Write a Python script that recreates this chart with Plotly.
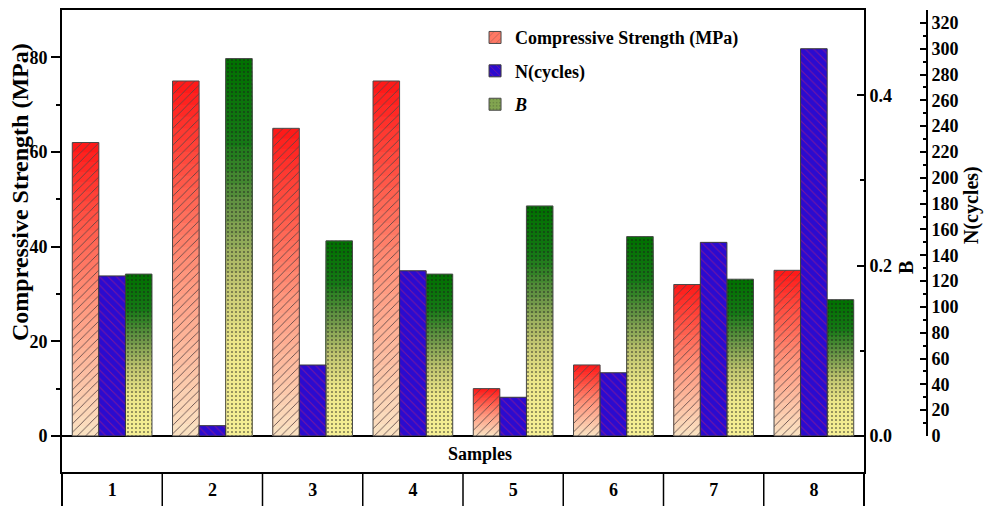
import plotly.graph_objects as go

# ---------------- data ----------------
samples = ["1", "2", "3", "4", "5", "6", "7", "8"]
strength = [62, 75, 65, 75, 10, 15, 32, 35]            # MPa (left axis)
cycles = [124, 8, 55, 128, 30, 49, 150, 300]           # N(cycles) (far right axis)
b_values = [0.190, 0.443, 0.229, 0.190, 0.270, 0.234, 0.184, 0.160]  # B (right axis)

strength_ticks = [0, 20, 40, 60, 80]
b_ticks = [0.0, 0.2, 0.4]
b_ticktext = ["0.0", "0.2", "0.4"]
cycle_ticks = list(range(0, 321, 20))

# ---------------- styling ----------------
FONT = "Liberation Serif"
W = 0.265
OFF = [-0.3975, -0.1325, 0.1325]
K = 30  # gradient layers

red_stops = [(0.0, (250, 228, 196)), (0.45, (255, 150, 125)), (0.7, (255, 92, 76)), (1.0, (255, 22, 22))]
green_stops = [(0.0, (246, 240, 150)), (0.25, (236, 230, 136)), (0.42, (190, 195, 110)),
               (0.6, (105, 148, 70)), (0.78, (22, 120, 22)), (1.0, (0, 112, 0))]
blue = "#2B0BCF"


def col(stops, t):
    for (t0, c0), (t1, c1) in zip(stops[:-1], stops[1:]):
        if t0 <= t <= t1:
            f = (t - t0) / (t1 - t0)
            c = [round(a + (b - a) * f) for a, b in zip(c0, c1)]
            return "rgb(%d,%d,%d)" % tuple(c)
    return "rgb(%d,%d,%d)" % stops[-1][1]


fig = go.Figure()


def add_gradient_series(values, stops, yaxis, offset, name, group, shape, fg, legend_color):
    for i in range(K):
        frac = (K - i) / K
        tmid = (K - i - 0.5) / K
        fig.add_trace(go.Bar(
            x=samples, y=[v * frac for v in values], yaxis=yaxis,
            offset=offset, width=W,
            marker=dict(color=col(stops, tmid), line=dict(width=0)),
            showlegend=False, hoverinfo="skip", legendgroup=group))
    # pattern + outline overlay
    fig.add_trace(go.Bar(
        x=samples, y=values, yaxis=yaxis, offset=offset, width=W, name=name,
        marker=dict(color="rgba(0,0,0,0)", line=dict(color="#4a4a4a", width=1),
                    pattern=dict(shape=shape, fgcolor=fg, bgcolor="rgba(0,0,0,0)",
                                 fillmode="replace", size=6 if shape != "." else 4,
                                 solidity=0.14 if shape != "." else 0.12)),
        showlegend=False, legendgroup=group))
    # legend carrier
    fig.add_trace(go.Bar(
        x=[None], y=[None], yaxis=yaxis, offset=offset, width=W, name=name,
        marker=dict(color=legend_color, line=dict(color="#4a4a4a", width=1),
                    pattern=dict(shape=shape, fgcolor=fg, fillmode="overlay",
                                 size=6 if shape != "." else 4,
                                 solidity=0.14 if shape != "." else 0.12)),
        showlegend=True, legendgroup=group))


add_gradient_series(strength, red_stops, "y", OFF[0], "Compressive Strength (MPa)", "cs",
                    "/", "#5a4545", "rgb(255,120,100)")

fig.add_trace(go.Bar(
    x=samples, y=cycles, yaxis="y3", offset=OFF[1], width=W, name="N(cycles)",
    marker=dict(color=blue, line=dict(color="#3a3a3a", width=1),
                pattern=dict(shape="\\", fgcolor="#C8206A", fillmode="overlay",
                             size=6, solidity=0.16)),
    legendgroup="n"))

add_gradient_series(b_values, green_stops, "y2", OFF[2], "<i>B</i>", "b",
                    ".", "#1a1a1a", "rgb(130,165,80)")

# ---------------- layout ----------------
plot_w = 802
paper_w = 865
xd = plot_w / paper_w
below = 34 / 462

fig.update_layout(
    width=987, height=506,
    margin=dict(l=62, r=60, t=10, b=34, pad=0, autoexpand=False),
    plot_bgcolor="rgba(0,0,0,0)", paper_bgcolor="white",
    barmode="overlay",
    font=dict(family=FONT, size=18, color="black", weight="bold"),
    showlegend=True,
    legend=dict(x=0.4775, y=0.98, xanchor="left", yanchor="top",
                bgcolor="rgba(0,0,0,0)", font=dict(family=FONT, size=18, weight="bold"),
                tracegroupgap=7, traceorder="grouped"),
    xaxis=dict(type="category", range=[-0.5, 7.5], domain=[0, xd], automargin=False,
               showline=True, linecolor="black", linewidth=2, mirror=True,
               ticks="", showgrid=False, zeroline=False, ticklabelstandoff=0,
               tickfont=dict(family=FONT, size=18, weight="bold")),
    xaxis2=dict(overlaying="x", anchor="y", side="top", type="linear", automargin=False,
                range=[-0.5, 7.5], tickvals=[i + 0.5 for i in range(7)],
                ticks="inside", ticklen=6, tickwidth=1.5, tickcolor="black",
                showticklabels=False, showline=False, showgrid=False, zeroline=False),
    yaxis=dict(range=[-7.62, 90], tickvals=strength_ticks, automargin=False,
               ticks="outside", ticklen=9, tickwidth=2, tickcolor="black",
               minor=dict(tickvals=[10, 30, 50, 70], ticks="outside", ticklen=4,
                          tickwidth=1.5, tickcolor="black"),
               showline=True, linecolor="black", linewidth=2,
               zeroline=True, zerolinecolor="black", zerolinewidth=1.5,
               showgrid=False, tickfont=dict(family=FONT, size=18, weight="bold")),
    yaxis2=dict(overlaying="y", side="right", anchor="x", automargin=False,
                range=[-0.04233, 0.5], tickvals=b_ticks, ticktext=b_ticktext,
                ticks="inside", ticklen=7, tickwidth=2, tickcolor="black",
                minor=dict(tickvals=[0.1, 0.3], ticks="inside", ticklen=4,
                           tickwidth=1.5, tickcolor="black"),
                showline=True, linecolor="black", linewidth=2,
                showgrid=False, zeroline=False,
                tickfont=dict(family=FONT, size=18, weight="bold")),
    yaxis3=dict(anchor="free", position=1.0, side="right", automargin=False,
                domain=[36 / 462, 1], range=[0, 330], tickvals=cycle_ticks,
                ticks="inside", ticklen=6, tickwidth=2, tickcolor="black",
                minor=dict(tickvals=list(range(10, 321, 20)), ticks="inside", ticklen=3,
                           tickwidth=1.5, tickcolor="black"),
                showline=True, linecolor="black", linewidth=2,
                showgrid=False, zeroline=False,
                tickfont=dict(family=FONT, size=18, weight="bold")),
)

# table row below the axis: separators and spine extensions
shapes = []
for i in range(len(samples) - 1):
    shapes.append(dict(type="line", xref="x", yref="paper", x0=i + 0.5, x1=i + 0.5,
                       y0=-below, y1=0, line=dict(color="black", width=1.5)))
for xp in [0, xd]:
    shapes.append(dict(type="line", xref="paper", yref="paper", x0=xp, x1=xp,
                       y0=-below - 0.01, y1=0, line=dict(color="black", width=2)))
fig.update_layout(shapes=shapes)

ann_font = lambda s: dict(family=FONT, size=s, weight="bold", color="black")
fig.add_annotation(text="Samples", xref="paper", yref="paper", x=0.4832, y=0.039,
                   xanchor="center", yanchor="middle", showarrow=False, font=ann_font(18))
fig.add_annotation(text="Compressive Strength (MPa)", xref="paper", yref="paper",
                   x=-0.0486, y=0.606, xanchor="center", yanchor="middle",
                   textangle=-90, showarrow=False, font=ann_font(24))
fig.add_annotation(text="B", xref="paper", yref="paper", x=0.9757, y=0.4437,
                   xanchor="center", yanchor="middle",
                   textangle=-90, showarrow=False, font=ann_font(20))
fig.add_annotation(text="N(cycles)", xref="paper", yref="paper", x=1.0521, y=0.578,
                   xanchor="center", yanchor="middle",
                   textangle=-90, showarrow=False, font=ann_font(20))

fig.write_html("out.html")
